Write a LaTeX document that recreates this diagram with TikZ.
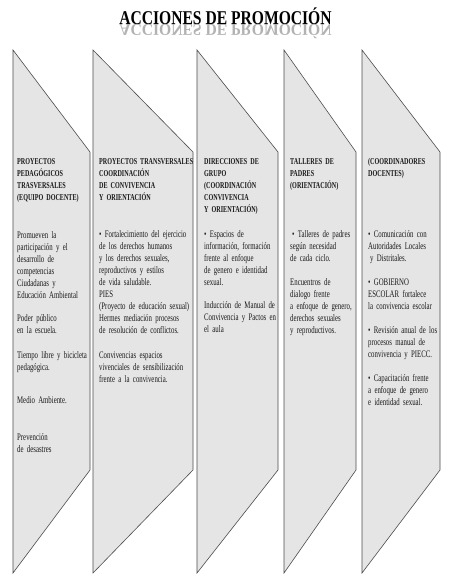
\documentclass[tikz,border=0pt]{standalone}
\usepackage{fontspec}
\setmainfont[FakeStretch=0.68,WordSpace=0.75]{Liberation Serif}
\newfontfamily\titlefont[FakeStretch=0.8]{Liberation Serif}
\usetikzlibrary{positioning}

\begin{document}
\begin{tikzpicture}[x=1pt,y=-1pt,
    panel/.style={draw=black!70,fill=black!10,line width=0.6pt},
    title/.style={anchor=base,inner sep=0pt,font=\titlefont\fontsize{19.5}{22}\selectfont\bfseries},
    mirror/.style={anchor=base,inner sep=0pt,text=black!30,font=\titlefont\fontsize{19.5}{22}\selectfont\bfseries},
    head/.style={anchor=base west,inner sep=0pt,text width=130pt,align=left,text=black!90,font=\fontsize{9}{12}\selectfont\bfseries},
    body/.style={anchor=base west,inner sep=0pt,text width=130pt,align=left,text=black!90,font=\fontsize{10}{12}\selectfont}]

    \useasboundingbox (0,0) rectangle (451,579);

    % title and its reflection
    \node[title] (title) at (225.5,24) {ACCIONES DE PROMOCIÓN};
    \node[mirror] (reflex) at (title.base) {\scalebox{1}[-0.85]{ACCIONES DE PROMOCIÓN}};

    % the five panels
    \foreach \xl/\xr in {13/90, 93/193, 197/278, 284/356, 362/440}
        \draw[panel] (\xl,50) -- (\xr,152) -- (\xr,470) -- (\xl,573) -- cycle;

    % column 1
    \node[head] (h1) at (17,164) {PROYECTOS\\PEDAGÓGICOS\\TRASVERSALES\\(EQUIPO DOCENTE)};
    \node[body] (a1) at (17,238) {Promueven la\\participación y el\\desarrollo de\\competencias\\Ciudadanas y\\Educación Ambiental};
    \node[body] (b1) at (17,321) {Poder público\\en la escuela.};
    \node[body] (c1) at (17,358) {Tiempo libre y bicicleta\\pedagógica.};
    \node[body] (d1) at (17,403) {Medio Ambiente.};
    \node[body] (e1) at (17,440) {Prevención\\de desastres};

    % column 2
    \node[head] (h2) at (99,164) {PROYECTOS TRANSVERSALES\\COORDINACIÓN\\DE CONVIVENCIA\\Y ORIENTACIÓN};
    \node[body] (a2) at (99,237) {• Fortalecimiento del ejercicio\\de los derechos humanos\\y los derechos sexuales,\\reproductivos y estilos\\de vida saludable.\\PIES\\(Proyecto de educación sexual)\\Hermes mediación procesos\\de resolución de conflictos.};
    \node[body] (b2) at (99,358) {Convivencias espacios\\vivenciales de sensibilización\\frente a la convivencia.};

    % column 3
    \node[head] (h3) at (204,164) {DIRECCIONES DE\\GRUPO\\(COORDINACIÓN\\CONVIVENCIA\\Y ORIENTACIÓN)};
    \node[body] (a3) at (204,237) {• Espacios de\\información, formación\\frente al enfoque\\de genero e identidad\\sexual.};
    \node[body] (b3) at (204,308) {Inducción de Manual de\\Convivencia y Pactos en\\el aula};

    % column 4
    \node[head] (h4) at (290,164) {TALLERES DE\\PADRES\\(ORIENTACIÓN)};
    \node[body] (a4) at (290,237) {\hspace{2pt}• Talleres de padres\\según necesidad\\de cada ciclo.};
    \node[body] (b4) at (290,285) {Encuentros de\\dialogo frente\\a enfoque de genero,\\derechos sexuales\\y reproductivos.};

    % column 5
    \node[head] (h5) at (368,164) {(COORDINADORES\\DOCENTES)};
    \node[body] (a5) at (368,237) {• Comunicación con\\Autoridades Locales\\\hspace{2pt}y Distritales.};
    \node[body] (b5) at (368,285) {• GOBIERNO\\ESCOLAR fortalece\\la convivencia escolar};
    \node[body] (c5) at (368,333) {• Revisión anual de los\\procesos manual de\\convivencia y PIECC.};
    \node[body] (d5) at (368,381) {• Capacitación frente\\a enfoque de genero\\e identidad sexual.};
\end{tikzpicture}
\end{document}
